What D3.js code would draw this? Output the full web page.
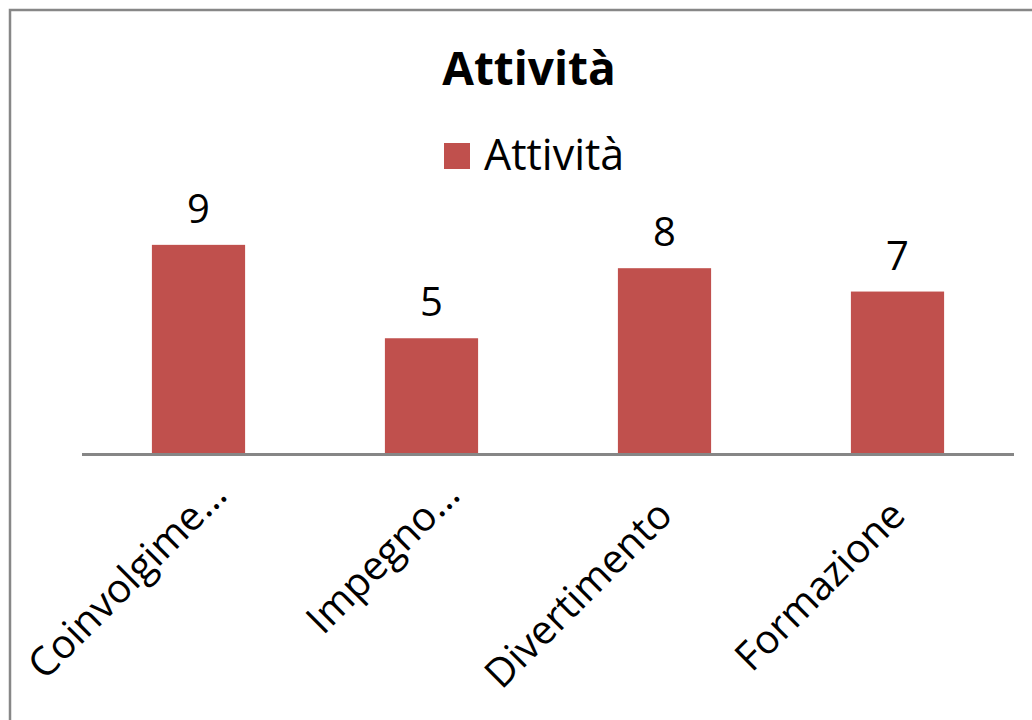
<!DOCTYPE html>
<html>
<head>
<meta charset="utf-8">
<script src="https://cdn.jsdelivr.net/npm/d3@7"></script>
<style>
  body { margin: 0; background: #fff; }
  svg { display: block; font-family: "Open Sans", "Noto Sans", sans-serif; }
</style>
</head>
<body>
<svg></svg>
<script>
const width = 1032;
const height = 720;

const title = 'Attività';
const seriesName = 'Attività';
const categories = ['Coinvolgime…', 'Impegno…', 'Divertimento', 'Formazione'];
const values = [9, 5, 8, 7];

const barColor = '#C0504D';
const axisColor = '#868686';

let svg = d3.select('svg')
    .attr('width', width)
    .attr('height', height);

// outer frame (chart is cropped on the right and bottom)
svg.append('rect')
    .attr('x', 10)
    .attr('y', 10)
    .attr('width', width + 20)
    .attr('height', height + 20)
    .attr('fill', 'none')
    .attr('stroke', '#878787')
    .attr('stroke-width', 2.5);

let xScale = d3.scaleBand()
    .domain(categories)
    .range([82, 1014])
    .paddingInner(0.6)
    .paddingOuter(0.3);

let yScale = d3.scaleLinear()
    .domain([0, 10])
    .range([455, 221.5]);

// title
svg.append('text')
    .attr('x', 529)
    .attr('y', 85)
    .attr('text-anchor', 'middle')
    .style('font-size', '46px')
    .style('font-weight', 'bold')
    .text(title);

// legend
let legend = svg.append('g').attr('transform', 'translate(444,143)');
legend.append('rect')
    .attr('width', 26)
    .attr('height', 26)
    .attr('fill', barColor);
legend.append('text')
    .attr('x', 40)
    .attr('y', 27)
    .style('font-size', '43px')
    .text(seriesName);

// bars
svg.selectAll('rect.bar')
    .data(values)
    .enter()
    .append('rect')
    .attr('class', 'bar')
    .attr('x', (d, i) => xScale(categories[i]))
    .attr('y', d => yScale(d))
    .attr('width', xScale.bandwidth())
    .attr('height', d => yScale(0) - yScale(d))
    .attr('fill', barColor);

// value labels
svg.selectAll('text.value')
    .data(values)
    .enter()
    .append('text')
    .attr('class', 'value')
    .attr('x', (d, i) => xScale(categories[i]) + xScale.bandwidth() / 2)
    .attr('y', d => yScale(d) - 22)
    .attr('text-anchor', 'middle')
    .style('font-size', '40px')
    .text(d => d);

// category axis
let xAxis = d3.axisBottom(xScale).tickSize(0).tickPadding(0);
let gx = svg.append('g')
    .attr('transform', 'translate(0,454.5)')
    .call(xAxis);
gx.select('.domain')
    .attr('d', 'M82,0H1014')
    .attr('stroke', axisColor)
    .attr('stroke-width', 3);
gx.selectAll('.tick text')
    .attr('fill', '#000')
    .style('font-family', '"Open Sans", "Noto Sans", sans-serif')
    .style('font-size', '40px')
    .attr('text-anchor', 'end')
    .attr('y', 0)
    .attr('dy', 0)
    .attr('dx', d => d.endsWith('…') ? 29 : 0)
    .attr('transform', 'translate(10,63) rotate(-45)');
</script>
</body>
</html>
